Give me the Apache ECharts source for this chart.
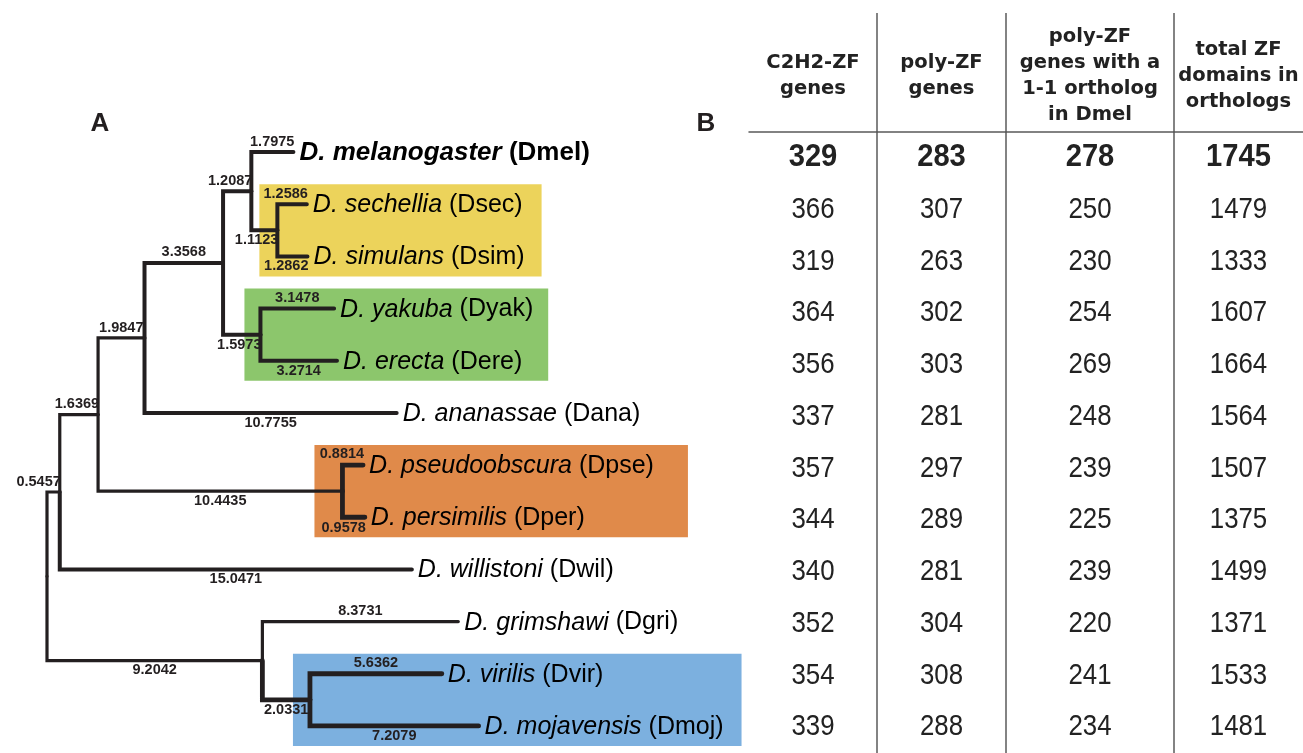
<!DOCTYPE html>
<html>
<head>
<meta charset="utf-8">
<script src="https://cdn.jsdelivr.net/npm/echarts@6/dist/echarts.min.js"></script>
<style>
  html, body { margin: 0; padding: 0; background: #fff; }
  #chart { width: 1303px; height: 753px; }
</style>
</head>
<body>
<div id="chart"></div>
<script>
// Species: tree tips and table rows, top to bottom
const speciesCodes = ['Dmel', 'Dsec', 'Dsim', 'Dyak', 'Dere', 'Dana', 'Dpse', 'Dper', 'Dwil', 'Dgri', 'Dvir', 'Dmoj'];
const speciesNames = ['D. melanogaster', 'D. sechellia', 'D. simulans', 'D. yakuba', 'D. erecta', 'D. ananassae',
  'D. pseudoobscura', 'D. persimilis', 'D. willistoni', 'D. grimshawi', 'D. virilis', 'D. mojavensis'];

// Table columns
const columnHeaders = ['C2H2-ZF\ngenes', 'poly-ZF\ngenes', 'poly-ZF\ngenes with a\n1-1 ortholog\nin Dmel', 'total ZF\ndomains in\northologs'];
const c2h2Genes = [329, 366, 319, 364, 356, 337, 357, 344, 340, 352, 354, 339];
const polyZfGenes = [283, 307, 263, 302, 303, 281, 297, 289, 281, 304, 308, 288];
const orthologPolyZfGenes = [278, 250, 230, 254, 269, 248, 239, 225, 239, 220, 241, 234];
const orthologZfDomains = [1745, 1479, 1333, 1607, 1664, 1564, 1507, 1375, 1499, 1371, 1533, 1481];

// Tree edges (parent -> child, branch length); the upper child of each node comes first
const edgeParents  = ['root', 'root', 'n1', 'n1', 'n2', 'n2', 'n3', 'n3', 'n4', 'n4', 'n5', 'n5', 'secsim', 'secsim', 'yakere', 'yakere', 'pseper', 'pseper', 'n6', 'n6', 'virmoj', 'virmoj'];
const edgeChildren = ['n1', 'n6', 'n2', 'Dwil', 'n3', 'pseper', 'n4', 'Dana', 'n5', 'yakere', 'Dmel', 'secsim', 'Dsec', 'Dsim', 'Dyak', 'Dere', 'Dpse', 'Dper', 'Dgri', 'virmoj', 'Dvir', 'Dmoj'];
const edgeLengths  = [0.5457, 9.2042, 1.6369, 15.0471, 1.9847, 10.4435, 3.3568, 10.7755, 1.2087, 1.5973, 1.7975, 1.1123, 1.2586, 1.2862, 3.1478, 3.2714, 0.8814, 0.9578, 8.3731, 2.0331, 5.6362, 7.2079];

// Highlighted clades (tips spanned by each coloured box)
const cladeTips = [['Dsec', 'Dsim'], ['Dyak', 'Dere'], ['Dpse', 'Dper'], ['Dvir', 'Dmoj']];
const cladeColors = ['#ECD35B', '#8CC66C', '#E08A4A', '#7CB0DF'];
const cladePadLeft = [18, 16, 28, 17];
const cladePadRight = [17, 15, 34, 18];

// Branch line widths
const thinBranches = ['n1', 'n2', 'n3', 'n6', 'pseper', 'Dgri'];
const heavyBranches = ['Dpse', 'Dper', 'Dvir', 'Dmoj', 'virmoj'];
function branchWidth(child) {
  if (thinBranches.includes(child)) return 3.2;
  if (heavyBranches.includes(child)) return 4.8;
  return 4;
}

const INK = '#231f20';
const branchFont = 'bold 14.5px "Liberation Sans"';
const tipSize = 25, tipSizeRef = 26;

// ---- tree layout from the edge list ----
const kids = {}, lenOf = {}, parentOf = {};
edgeParents.forEach((p, i) => {
  (kids[p] = kids[p] || []).push(edgeChildren[i]);
  lenOf[edgeChildren[i]] = edgeLengths[i];
  parentOf[edgeChildren[i]] = p;
});
const nodeX = { root: 0 }, nodeY = {};
(function place(n) {
  if (kids[n]) {
    kids[n].forEach(c => { nodeX[c] = nodeX[n] + lenOf[c]; place(c); });
    nodeY[n] = kids[n].reduce((s, c) => s + nodeY[c], 0) / kids[n].length;
  } else {
    nodeY[n] = speciesCodes.indexOf(n);
  }
})('root');

const edgeData = edgeChildren.map((c, i) => {
  const p = edgeParents[i];
  return [nodeX[p], nodeY[p], nodeX[c], nodeY[c], edgeLengths[i], kids[p][0] === c ? 1 : 0];
});
const tipData = speciesCodes.map((c, i) => [nodeX[c], nodeY[c], i]);
const cladeData = cladeTips.map((t, k) => [nodeX[parentOf[t[0]]], nodeY[t[0]], nodeY[t[t.length - 1]], k]);

// text measuring
const mctx = document.createElement('canvas').getContext('2d');
function textWidth(text, font) { mctx.font = font; return mctx.measureText(text).width; }
function tipFonts(i) {
  const ref = i === 0;
  const size = ref ? tipSizeRef : tipSize;
  const w = ref ? 'bold ' : '';
  return { italic: 'italic ' + w + size + 'px "Liberation Sans"', upright: w + size + 'px "Liberation Sans"' };
}
function tipLabelWidth(i) {
  const f = tipFonts(i);
  return textWidth(speciesNames[i] + ' ', f.italic) + textWidth('(' + speciesCodes[i] + ')', f.upright);
}
const TIP_GAP = 6;

const richStyles = {
  it:  { fontFamily: 'Liberation Sans', fontStyle: 'italic', fontSize: tipSize, color: INK },
  up:  { fontFamily: 'Liberation Sans', fontSize: tipSize, color: INK },
  bit: { fontFamily: 'Liberation Sans', fontStyle: 'italic', fontWeight: 'bold', fontSize: tipSizeRef, color: INK },
  bup: { fontFamily: 'Liberation Sans', fontWeight: 'bold', fontSize: tipSizeRef, color: INK }
};

// ---- table layout ----
const tableEdges = [749, 877, 1006, 1174, 1316];
const tableTop = 132, tableRowH = 52, tableRuleTop = 13;
const tableColumns = [c2h2Genes, polyZfGenes, orthologPolyZfGenes, orthologZfDomains];
const RULE = '#5a5a5a';

const chart = echarts.init(document.getElementById('chart'), null, { renderer: 'canvas' });

const grids = [{ left: 47, width: 702, top: 126, height: 626 }];
const xAxes = [{ gridIndex: 0, type: 'value', min: 0, max: 30, show: false }];
const yAxes = [{ gridIndex: 0, type: 'value', min: -0.5, max: 11.5, inverse: true, show: false }];

tableColumns.forEach((col, k) => {
  grids.push({ left: tableEdges[k], width: tableEdges[k + 1] - tableEdges[k], top: tableTop, height: tableRowH * speciesCodes.length });
  xAxes.push({
    gridIndex: k + 1, type: 'category', position: 'top', data: [columnHeaders[k]],
    axisLine: { show: true, onZero: false, lineStyle: { color: RULE, width: 1.5 } },
    axisTick: { show: false },
    splitLine: { show: false },
    axisLabel: {
      interval: 0, margin: 56, verticalAlign: 'middle', align: 'center',
      fontFamily: 'DejaVu Sans', fontWeight: 'bold', fontSize: 19.5, lineHeight: 26, color: '#222'
    }
  });
  yAxes.push({ gridIndex: k + 1, type: 'value', min: -0.5, max: 11.5, inverse: true, show: false });
});

const series = [
  {
    // coloured clade boxes
    type: 'custom', xAxisIndex: 0, yAxisIndex: 0, z: 1, clip: false, silent: true,
    data: cladeData,
    renderItem(params, api) {
      const k = api.value(3);
      const tips = cladeTips[k];
      const nodePt = api.coord([api.value(0), api.value(1)]);
      const topPt = api.coord([api.value(0), api.value(1)]);
      const botPt = api.coord([api.value(0), api.value(2)]);
      let right = 0;
      tips.forEach(t => {
        const i = speciesCodes.indexOf(t);
        const tp = api.coord([nodeX[t], nodeY[t]]);
        right = Math.max(right, tp[0] + TIP_GAP + tipLabelWidth(i));
      });
      const x0 = nodePt[0] - cladePadLeft[k];
      const x1 = right + cladePadRight[k];
      const y0 = topPt[1] - 20, y1 = botPt[1] + 20;
      return { type: 'rect', shape: { x: x0, y: y0, width: x1 - x0, height: y1 - y0 }, style: { fill: cladeColors[k] } };
    }
  },
  {
    // tree branches with branch-length labels
    type: 'custom', xAxisIndex: 0, yAxisIndex: 0, z: 3, clip: false, silent: true,
    data: edgeData,
    renderItem(params, api) {
      const i = params.dataIndex;
      const child = edgeChildren[i];
      const p0 = api.coord([api.value(0), api.value(1)]);
      const p1 = api.coord([api.value(0), api.value(3)]);
      const p2 = api.coord([api.value(2), api.value(3)]);
      const w = branchWidth(child);
      const label = api.value(4).toFixed(4);
      const tw = textWidth(label, branchFont);
      const len = p2[0] - p1[0];
      const centred = len >= tw;
      const above = api.value(5) === 1;
      return {
        type: 'group',
        children: [
          {
            type: 'polyline',
            shape: { points: [p0, p1, p2] },
            style: { stroke: INK, lineWidth: w, fill: null, lineJoin: 'miter', lineCap: 'round' }
          },
          {
            type: 'text',
            x: centred ? (p1[0] + p2[0]) / 2 : p2[0] + 1,
            y: above ? p2[1] - w / 2 - 1 : p2[1] + w / 2 + 0.5,
            style: {
              text: label, font: branchFont, fill: INK,
              align: centred ? 'center' : 'right',
              verticalAlign: above ? 'bottom' : 'top'
            }
          }
        ]
      };
    }
  },
  {
    // species names at the tips
    type: 'custom', xAxisIndex: 0, yAxisIndex: 0, z: 4, clip: false, silent: true,
    data: tipData,
    renderItem(params, api) {
      const i = api.value(2);
      const p = api.coord([api.value(0), api.value(1)]);
      const ref = i === 0;
      const text = ref
        ? '{bit|' + speciesNames[i] + ' }{bup|(' + speciesCodes[i] + ')}'
        : '{it|' + speciesNames[i] + ' }{up|(' + speciesCodes[i] + ')}';
      return {
        type: 'text', x: p[0] + TIP_GAP, y: p[1] + 1,
        style: { text, rich: richStyles, align: 'left', verticalAlign: 'middle' }
      };
    }
  }
];

tableColumns.forEach((col, k) => {
  series.push({
    type: 'custom', xAxisIndex: k + 1, yAxisIndex: k + 1, z: 4, clip: false, silent: true,
    data: col.map((v, i) => [0, i, v]),
    renderItem(params, api) {
      const i = api.value(1);
      const p = api.coord([api.value(0), i]);
      const first = i === 0;
      return {
        type: 'text', x: p[0], y: p[1], scaleX: first ? 0.94 : 0.86,
        style: {
          text: String(api.value(2)),
          font: (first ? 'bold 31px' : '30px') + ' "Liberation Sans"',
          fill: '#222', align: 'center', verticalAlign: 'middle'
        }
      };
    }
  });
});

// column separators of the table and panel letters
const tableBottom = 753;
const graphics = tableEdges.slice(1, 4).map(x => ({
  type: 'line', shape: { x1: x, y1: tableRuleTop, x2: x, y2: tableBottom },
  style: { stroke: RULE, lineWidth: 1.5 }, silent: true
}));
graphics.push(
  { type: 'text', x: 100, y: 124, style: { text: 'A', font: 'bold 26px "Liberation Sans"', fill: INK, align: 'center', verticalAlign: 'middle' } },
  { type: 'text', x: 706, y: 124, style: { text: 'B', font: 'bold 26px "Liberation Sans"', fill: INK, align: 'center', verticalAlign: 'middle' } }
);

chart.setOption({
  animation: false,
  backgroundColor: '#ffffff',
  grid: grids,
  xAxis: xAxes,
  yAxis: yAxes,
  series,
  graphic: graphics
});
</script>
</body>
</html>
